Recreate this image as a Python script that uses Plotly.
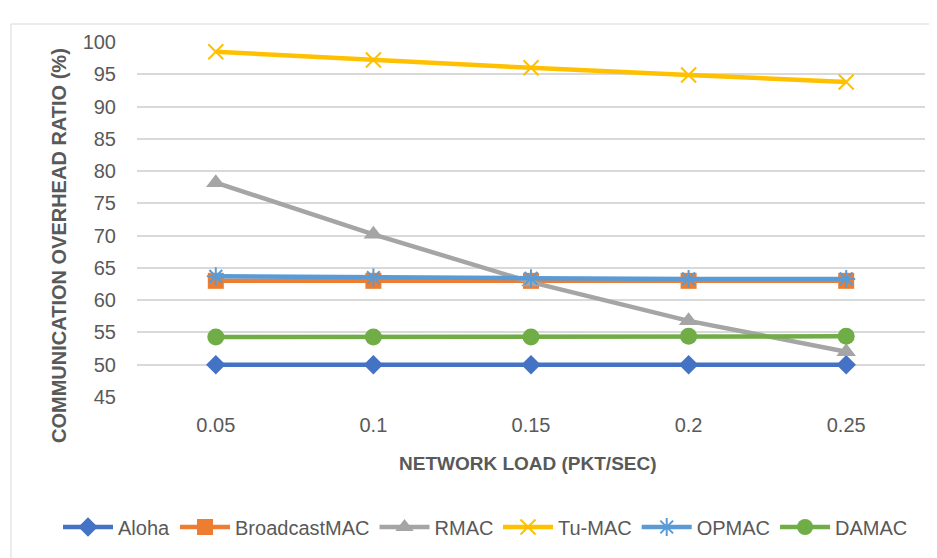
import plotly.graph_objects as go

categories = ["0.05", "0.1", "0.15", "0.2", "0.25"]
aloha = [50, 50, 50, 50, 50]
broadcast_mac = [63.0, 63.0, 63.0, 63.0, 63.0]
rmac = [78.2, 70.2, 62.8, 56.8, 52.0]
tu_mac = [98.5, 97.2, 96.0, 94.9, 93.8]
opmac = [63.7, 63.5, 63.4, 63.3, 63.3]
damac = [54.3, 54.3, 54.3, 54.4, 54.4]
y_ticks = [45, 50, 55, 60, 65, 70, 75, 80, 85, 90, 95, 100]

series = [
    ("Aloha", aloha, "#4472C4", "diamond", 15, "legend"),
    ("BroadcastMAC", broadcast_mac, "#ED7D31", "square", 16, "legend"),
    ("RMAC", rmac, "#A5A5A5", "triangle-up", 17, "legend"),
    ("Tu-MAC", tu_mac, "#FFC000", "x-thin", 15, "legend2"),
    ("OPMAC", opmac, "#5B9BD5", "asterisk", 15, "legend2"),
    ("DAMAC", damac, "#70AD47", "circle", 17, "legend2"),
]

fig = go.Figure()
for name, vals, color, sym, size, lg in series:
    fig.add_trace(go.Scatter(
        x=categories, y=vals, name=name, mode="lines+markers", legend=lg,
        line=dict(color=color, width=4.5),
        marker=dict(symbol=sym, size=size, color=color,
                    line=dict(color=color, width=2 if sym in ("x-thin", "asterisk") else 0)),
    ))

OFF = 8  # page body margin
W, H = 937 - OFF, 558 - OFF
L, R, T, B = 137 - OFF, 925 - OFF, 42 - OFF, 397 - OFF
pw, ph = R - L, B - T

def px2paper_x(x):
    return (x - OFF - L) / pw

def px2paper_y(y):
    return 1 - (y - OFF - T) / ph

fig.add_shape(type="rect", xref="paper", yref="paper",
              x0=px2paper_x(11), x1=px2paper_x(945),
              y0=px2paper_y(575), y1=px2paper_y(24),
              line=dict(color="#D9D9D9", width=1), fillcolor="rgba(0,0,0,0)", layer="below")

fig.add_annotation(text="<b>COMMUNICATION OVERHEAD RATIO (%)</b>", textangle=-90,
                   xref="paper", yref="paper", x=px2paper_x(59), y=px2paper_y(246),
                   xanchor="center", yanchor="middle", showarrow=False,
                   font=dict(size=20, color="#595959"))
fig.add_annotation(text="<b>NETWORK LOAD (PKT/SEC)</b>",
                   xref="paper", yref="paper", x=px2paper_x(528), y=px2paper_y(463),
                   xanchor="center", yanchor="middle", showarrow=False,
                   font=dict(size=19, color="#595959"))

legend_common = dict(orientation="h", xref="container", yref="container",
                     xanchor="left", y=1 - (527 - OFF) / H, yanchor="middle",
                     font=dict(size=20, color="#595959"), itemwidth=50, tracegroupgap=0,
                     bgcolor="rgba(0,0,0,0)")

fig.update_layout(
    width=W, height=H,
    margin=dict(l=L, r=W - R, t=T, b=H - B, autoexpand=False),
    paper_bgcolor="white", plot_bgcolor="white",
    font=dict(family="Liberation Sans, sans-serif", color="#595959"),
    showlegend=True,
    legend=dict(x=(58 - OFF) / W, **legend_common),
    legend2=dict(x=(498 - OFF) / W, **legend_common),
    xaxis=dict(type="category", range=[-0.5, 4.5], showgrid=False, zeroline=False,
               showline=False, ticks="", tickfont=dict(size=20, color="#595959"),
               ticklabelstandoff=14, automargin=False),
    yaxis=dict(range=[45, 100], tickvals=y_ticks, showgrid=True, gridcolor="#D9D9D9",
               gridwidth=1.5, zeroline=False, showline=False, ticks="",
               tickfont=dict(size=20, color="#595959"), ticklabelstandoff=20, automargin=False),
)

fig.write_html("out.html")
